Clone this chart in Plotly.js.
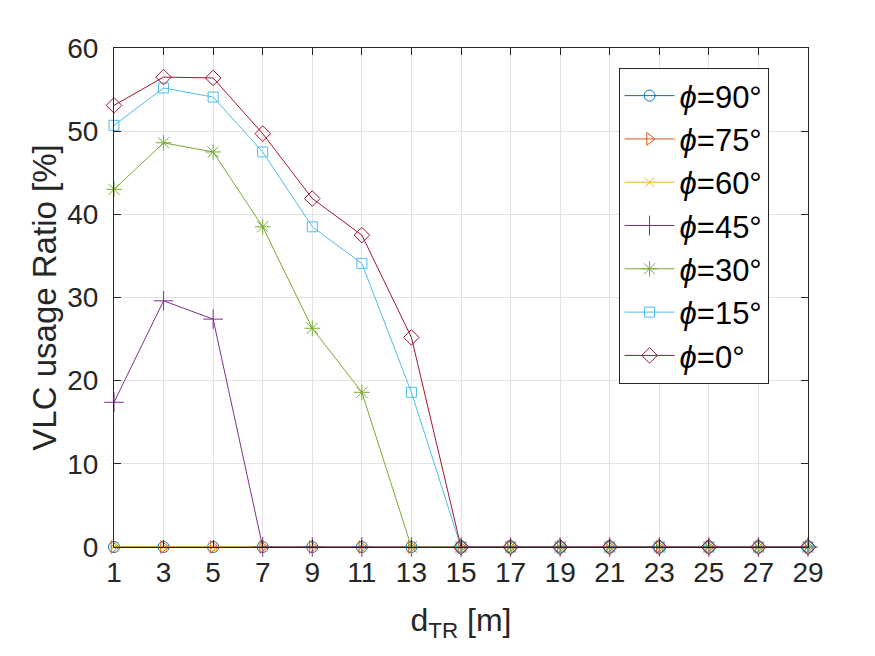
<!DOCTYPE html>
<html><head><meta charset="utf-8">
<script src="https://cdn.plot.ly/plotly-3.0.1.min.js"></script>
<style>html,body{margin:0;padding:0;background:#fff}#chart{width:875px;height:656px}</style>
</head><body><div id="chart"></div>
<script>
const dTR = [1,3,5,7,9,11,13,15,17,19,21,23,25,27,29];
const phi90 = [0,0,0,0,0,0,0,0,0,0,0,0,0,0,0];
const phi75 = [0,0,0,0,0,0,0,0,0,0,0,0,0,0,0];
const phi60 = [0,0,0,0,0,0,0,0,0,0,0,0,0,0,0];
const phi45 = [17.4,29.6,27.4,0,0,0,0,0,0,0,0,0,0,0,0];
const phi30 = [43.0,48.6,47.5,38.5,26.3,18.6,0,0,0,0,0,0,0,0,0];
const phi15 = [50.7,55.2,54.1,47.5,38.5,34.1,18.6,0,0,0,0,0,0,0,0];
const phi0  = [53.1,56.5,56.4,49.7,41.9,37.5,25.2,0,0,0,0,0,0,0,0];
const names = ['90','75','60','45','30','15','0'];
const series = [phi90,phi75,phi60,phi45,phi30,phi15,phi0];
const colors = ['#0072BD','#D95319','#EDB120','#7E2F8E','#77AC30','#4DBEEE','#A2142F'];
const symbols = ['circle-open','triangle-right-open','x-thin-open','cross-thin-open','asterisk-open','square-open','diamond-open'];
const sizes = [11,11,9,14,13,10,12];
const traces = series.map((s,i)=>({
  x: dTR, y: s, type:'scatter', mode:'lines+markers', cliponaxis:false,
  name: '<i>ϕ</i>=' + names[i] + '°',
  legendgroup: 'g'+i,
  line:{color:colors[i], width:1},
  marker:{symbol:symbols[i], size:sizes[i], color:colors[i], line:{color:colors[i], width:1}}
}));
const layout = {
  width:875, height:656,
  margin:{l:114, r:67, t:48, b:109},
  paper_bgcolor:'#fff', plot_bgcolor:'#fff',
  font:{family:'Arial, Liberation Sans, sans-serif', color:'#262626'},
  showlegend:true,
  legend:{x:0.727, y:0.96, xanchor:'left', yanchor:'top', bgcolor:'#fff',
    bordercolor:'#262626', borderwidth:1, font:{size:31, color:'#000'},
    tracegroupgap:0, itemwidth:50},
  xaxis:{range:[1,29], tick0:1, dtick:2, showgrid:true, gridcolor:'#e3e3e3',
    zeroline:false, showline:true, linecolor:'#262626', linewidth:1, mirror:'ticks',
    ticks:'inside', ticklen:7, tickcolor:'#262626', tickfont:{size:28, color:'#262626'},
    title:{text:'d<sub>TR</sub> [m]', font:{size:32, color:'#262626'}, standoff:22}},
  yaxis:{range:[0,60], dtick:10, showgrid:true, gridcolor:'#e3e3e3',
    zeroline:false, showline:true, linecolor:'#262626', linewidth:1, mirror:'ticks',
    ticks:'inside', ticklen:7, tickcolor:'#262626', tickfont:{size:28, color:'#262626'},
    ticklabelstandoff:9,
    title:{text:'VLC usage Ratio [%]', font:{size:33, color:'#262626'}, standoff:0}}
};
Plotly.newPlot('chart', traces, layout, {displayModeBar:false, staticPlot:true});
</script></body></html>
